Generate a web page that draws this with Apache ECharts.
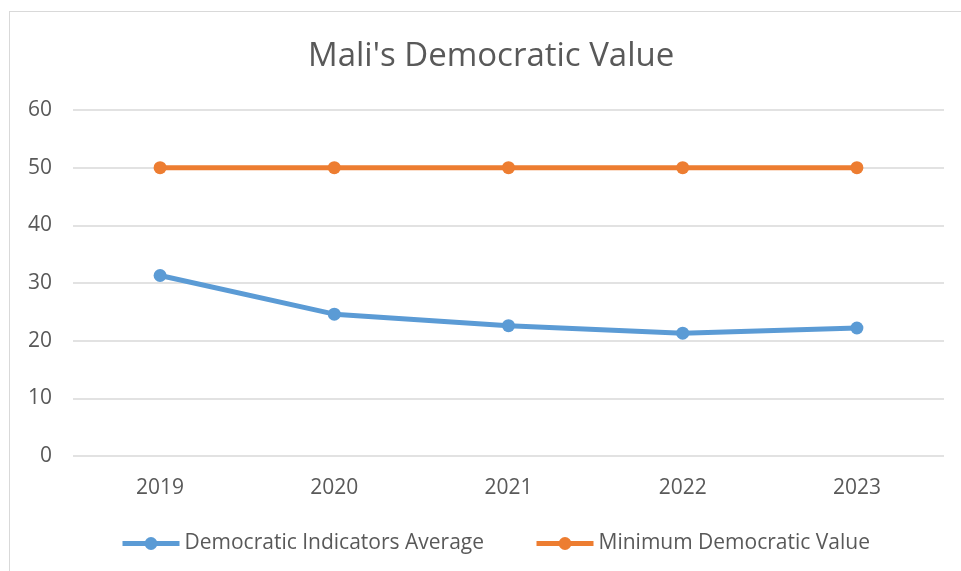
<!DOCTYPE html>
<html lang="en">
<head>
    <meta charset="UTF-8">
    <title>Mali's Democratic Value</title>
    <script src="https://cdn.jsdelivr.net/npm/echarts@6/dist/echarts.min.js"></script>
    <style>
        html, body { margin: 0; padding: 0; background: #fff; }
        #frame { position: absolute; left: 9px; top: 11px; width: 970px; height: 570px; border: 1px solid #d9d9d9; }
        #main { position: absolute; left: 0; top: 0; width: 961px; height: 571px; }
    </style>
</head>
<body>
<div id="frame"></div>
<div id="main"></div>
<script type="text/javascript">
    // 数据
    var years = ['2019', '2020', '2021', '2022', '2023'];
    var avgValues = [31.3, 24.6, 22.6, 21.3, 22.2];
    var minValues = [50, 50, 50, 50, 50];
    var yTicks = [0, 10, 20, 30, 40, 50, 60];

    var textColor = '#595959';
    var fontName = '"Open Sans", sans-serif';

    var myChart = echarts.init(document.getElementById('main'));
    var option = {
        animation: false,
        title: {
            text: "Mali's Democratic Value",
            left: 303,
            top: 35,
            textStyle: { color: textColor, fontSize: 33, fontWeight: 'normal', fontFamily: fontName }
        },
        legend: {
            bottom: 12,
            left: 115,
            itemWidth: 57,
            itemHeight: 16,
            itemGap: 50,
            lineStyle: { width: 5 },
            textStyle: { color: textColor, fontSize: 21, fontFamily: fontName, padding: [0, 0, 0, 0] },
            data: ['Democratic Indicators Average', 'Minimum Democratic Value']
        },
        grid: { left: 73, right: 17, top: 110, bottom: 115 },
        xAxis: {
            type: 'category',
            data: years,
            axisLine: { show: false },
            axisTick: { show: false },
            axisLabel: { color: textColor, fontSize: 21, fontFamily: fontName, margin: 22 }
        },
        yAxis: {
            type: 'value',
            min: yTicks[0],
            max: yTicks[yTicks.length - 1],
            interval: 10,
            axisLine: { show: false },
            axisTick: { show: false },
            axisLabel: { color: textColor, fontSize: 21, fontFamily: fontName, margin: 21 },
            splitLine: { lineStyle: { color: '#d9d9d9', width: 1.5 } }
        },
        series: [
            {
                name: 'Democratic Indicators Average',
                type: 'line',
                data: avgValues,
                symbol: 'circle',
                symbolSize: 13,
                lineStyle: { width: 5, color: '#5b9bd5' },
                itemStyle: { color: '#5b9bd5' }
            },
            {
                name: 'Minimum Democratic Value',
                type: 'line',
                data: minValues,
                symbol: 'circle',
                symbolSize: 13,
                lineStyle: { width: 5, color: '#ed7d31' },
                itemStyle: { color: '#ed7d31' }
            }
        ]
    };
    myChart.setOption(option);
</script>
</body>
</html>
